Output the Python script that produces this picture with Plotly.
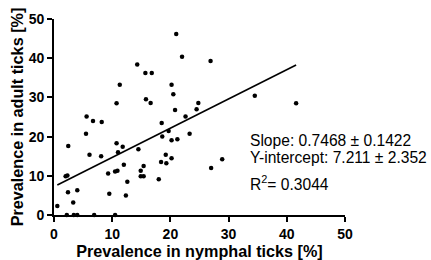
import plotly.graph_objects as go

nymph = [0.57, 2.0, 2.3, 2.45, 2.4, 4.0, 3.3, 2.2, 3.4, 4.0, 6.9, 10.5,
         5.5, 6.1, 5.6, 6.7, 8.2, 8.1, 9.3, 9.5, 10.5, 10.9, 10.75, 11.0,
         11.8, 12.0, 12.35, 12.6, 10.75, 11.3, 14.3, 15.7, 16.8, 15.8, 16.6,
         14.5, 14.9, 14.9, 15.4, 15.4, 18.0, 18.5, 18.6, 18.4, 19.2, 19.3,
         19.7, 20.2, 20.2, 21.2, 23.3, 20.2, 20.5, 21.0, 22.0, 20.8, 22.6,
         24.5, 24.8, 26.9, 34.5, 41.6, 27.0, 28.9]
adult = [2.3, 9.9, 10.1, 17.6, 5.8, 6.3, 3.2, 0, 0, 0, 0, 0,
         20.7, 15.4, 25.1, 24.0, 23.7, 15.0, 10.6, 5.4, 11.1, 11.3, 18.3, 16.0,
         17.4, 12.8, 5.0, 8.5, 28.5, 33.2, 38.4, 36.2, 36.2, 29.5, 28.6,
         16.8, 11.3, 9.9, 9.9, 12.5, 9.1, 23.5, 20.0, 13.5, 15.4, 13.2,
         21.4, 19.1, 14.5, 19.3, 20.7, 33.2, 30.8, 46.2, 40.4, 26.8, 25.1,
         27.0, 28.6, 39.3, 30.4, 28.5, 12.0, 14.2]

slope = 0.7468
intercept = 7.211
stats_lines = ["Slope: 0.7468 ± 0.1422",
               "Y-intercept: 7.211 ± 2.352",
               "R<sup>2</sup>= 0.3044"]
ticks = [0, 10, 20, 30, 40, 50]

x_fit = [min(nymph), max(nymph)]
y_fit = [slope * v + intercept for v in x_fit]

fig = go.Figure()
fig.add_trace(go.Scatter(x=nymph, y=adult, mode="markers",
                         marker=dict(color="black", size=4.5),
                         cliponaxis=False, showlegend=False, hoverinfo="skip"))
fig.add_trace(go.Scatter(x=x_fit, y=y_fit, mode="lines",
                         line=dict(color="black", width=1.6),
                         cliponaxis=False, showlegend=False, hoverinfo="skip"))

font_family = "Liberation Sans, Arial, sans-serif"
axis_common = dict(range=[0, 50], tickvals=ticks, showline=True, linecolor="black",
                   linewidth=1.6, ticks="outside", ticklen=5, tickwidth=1.6,
                   tickcolor="black", showgrid=False, zeroline=False, automargin=False,
                   tickfont=dict(family=font_family, size=14, color="black", weight="bold"))

fig.update_layout(
    width=431, height=260,
    margin=dict(l=54, r=86, t=19, b=45),
    plot_bgcolor="white", paper_bgcolor="white",
    xaxis=dict(**axis_common,
               title=dict(text="Prevalence in nymphal ticks [%]", standoff=4,
                          font=dict(family=font_family, size=16.2, color="black", weight="bold"))),
    yaxis=dict(**axis_common,
               title=dict(text="Prevalence in adult ticks [%]", standoff=1,
                          font=dict(family=font_family, size=16.2, color="black", weight="bold"))),
)

ypos = [0.378, 0.293, 0.161]
for txt, yp in zip(stats_lines, ypos):
    fig.add_annotation(text=txt, xref="paper", yref="paper", x=0.667, y=yp,
                       xanchor="left", yanchor="middle", showarrow=False,
                       font=dict(family=font_family, size=15.6, color="black"))

fig.write_html("out.html", config={"displayModeBar": False},
               post_script="document.body.style.margin='0';")
